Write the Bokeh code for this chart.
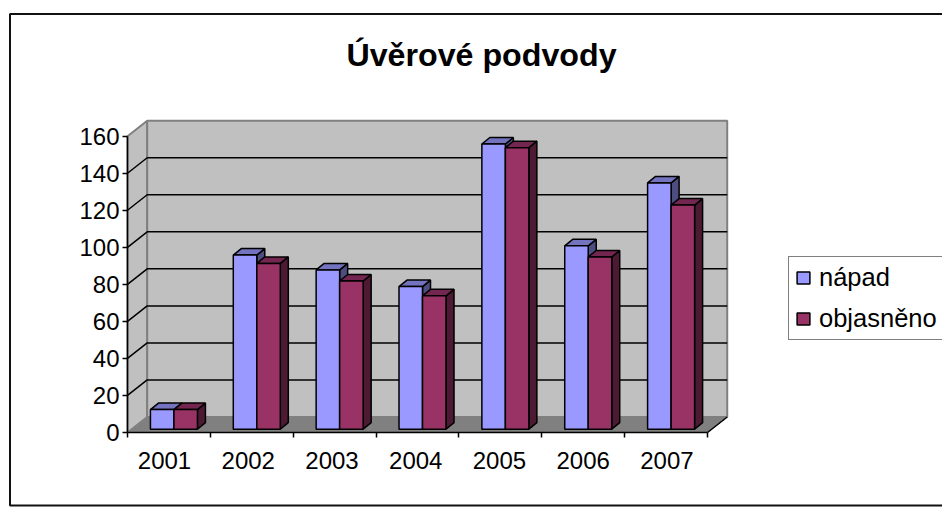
from bokeh.plotting import figure
from bokeh.models import (LinearAxis, FixedTicker, Range1d, Legend, LegendItem, BoxAnnotation)
from bokeh.core.properties import value
from bokeh.embed import file_html
from bokeh.resources import INLINE

chart_title = "Úvěrové podvody"
years = ["2001", "2002", "2003", "2004", "2005", "2006", "2007"]
napad = [10.6, 94, 86, 77, 154, 99, 133]
objasneno = [10.6, 89.5, 80, 72, 152, 93, 121]
y_ticks = [0, 20, 40, 60, 80, 100, 120, 140, 160]

FONT = "Liberation Sans"
W, H = 942, 512
X0, Y0 = 127, 432   # pixel position of the axes' origin
PXX = 82.86
PXY = 1.852
N = len(years)
YMAX = y_ticks[-1]
DX = 19.7 / PXX
DY = 15.5 / PXY
BAR_W = 23.5 / PXX
BAR_DX = 8 / PXX
BAR_DY = 6.5 / PXY
BAR_OFF = 5.0 / PXX
BASE = 3.3 / PXY

def dx(px):
    return (px - X0) / PXX

def dy(py):
    return (Y0 - py) / PXY

p = figure(width=W, height=H, output_backend="svg", toolbar_location=None,
           x_range=Range1d(dx(0), dx(W)), y_range=Range1d(dy(H), dy(0)),
           x_axis_type=None, y_axis_type=None,
           min_border_left=0, min_border_right=0, min_border_top=0, min_border_bottom=0,
           outline_line_color=None, background_fill_color="white", border_fill_color="white")
p.grid.visible = False

p.text([dx(481)], [dy(54.5)], text=[chart_title], text_font=value(FONT), text_font_size="32.2px",
       text_font_style="bold", text_color="black", text_align="center", text_baseline="middle")

# Walls and floor
p.patch([0, DX, DX, 0], [0, DY, YMAX + DY, YMAX], fill_color="#C0C0C0", line_color="#808080", line_width=2)
p.patch([DX, N + DX, N + DX, DX], [DY, DY, YMAX + DY, YMAX + DY], fill_color="#C0C0C0", line_color="#808080", line_width=2)
p.patch([0, N, N + DX, DX], [0, 0, DY, DY], fill_color="#808080", line_color="#808080", line_width=1)

# Grid lines
gx, gy = [], []
for v in y_ticks[1:-1]:
    gx.append([0, DX, N + DX])
    gy.append([v, v + DY, v + DY])
p.multi_line(gx, gy, line_color="black", line_width=1.5)
p.line([N, N + DX], [0, DY], line_color="black", line_width=1.5)

# Bars
def draw(values, start, face, top, side):
    fx, fy, tx, ty, sx, sy = [], [], [], [], [], []
    for i, v in enumerate(values):
        x0 = i + 0.5 + BAR_OFF + start * BAR_W
        x1 = x0 + BAR_W
        y0, y1 = BASE, BASE + v
        fx.append([x0, x1, x1, x0]); fy.append([y0, y0, y1, y1])
        tx.append([x0, x1, x1 + BAR_DX, x0 + BAR_DX]); ty.append([y1, y1, y1 + BAR_DY, y1 + BAR_DY])
        sx.append([x1, x1 + BAR_DX, x1 + BAR_DX, x1]); sy.append([y0, y0 + BAR_DY, y1 + BAR_DY, y1])
    p.patches(sx, sy, fill_color=side, line_color="black", line_width=1.5)
    p.patches(tx, ty, fill_color=top, line_color="black", line_width=1.5)
    return p.patches(fx, fy, fill_color=face, line_color="black", line_width=1.5)

r1 = draw(napad, -1, "#9999FF", "#7373BF", "#4D4D80")
r2 = draw(objasneno, 0, "#993366", "#732650", "#4D1A33")

# Axes
yax = LinearAxis(ticker=FixedTicker(ticks=y_ticks), bounds=(0, YMAX), fixed_location=0)
yax.axis_line_color = "black"; yax.axis_line_width = 1.5
yax.major_tick_line_color = "black"; yax.major_tick_line_width = 1.5
yax.major_tick_in = 0; yax.major_tick_out = 5
yax.minor_tick_line_color = None
yax.major_label_text_font = FONT; yax.major_label_text_font_size = "24px"
yax.major_label_text_color = "black"; yax.major_label_standoff = 3
p.add_layout(yax, "left")

centers = [0.447 + i * 1.0105 for i in range(N)]
xax = LinearAxis(ticker=FixedTicker(ticks=centers, minor_ticks=list(range(N + 1))), bounds=(0, N), fixed_location=0)
xax.major_label_overrides = {c: y for c, y in zip(centers, years)}
xax.axis_line_color = "black"; xax.axis_line_width = 1.5
xax.major_tick_line_color = None
xax.major_tick_out = 0; xax.major_tick_in = 0
xax.minor_tick_line_color = "black"; xax.minor_tick_line_width = 1.5
xax.minor_tick_in = 0; xax.minor_tick_out = 5
xax.major_label_text_font = FONT; xax.major_label_text_font_size = "24px"
xax.major_label_text_color = "black"; xax.major_label_standoff = 14
p.add_layout(xax, "below")

legend = Legend(items=[LegendItem(label="nápad", renderers=[r1]), LegendItem(label="objasněno", renderers=[r2])],
                location=(788, 172), orientation="vertical",
                border_line_color="black", border_line_width=1.5, background_fill_color="white",
                label_text_font=FONT, label_text_font_size="25.5px", label_text_color="black",
                glyph_width=16, glyph_height=15, label_standoff=8, padding=6, spacing=12, margin=0,
                label_height=29, label_width=120)
p.add_layout(legend, "center")

# Chart border
p.add_layout(BoxAnnotation(left=dx(9.5), right=dx(1000), top=dy(13.5), bottom=dy(505), fill_alpha=0,
                           line_color="#111111", line_width=2, line_alpha=1, level="underlay"))

open("out.html", "w").write(file_html(p, INLINE))
